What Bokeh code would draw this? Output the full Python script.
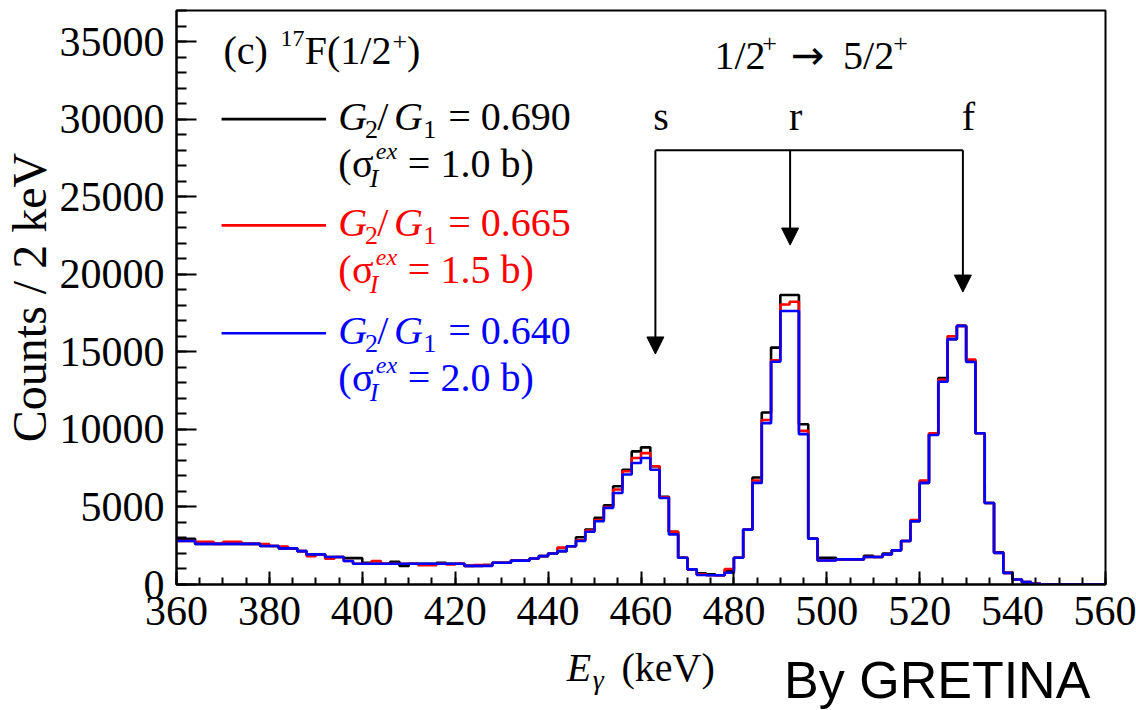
import math
from bokeh.plotting import figure
from bokeh.layouts import row, column
from bokeh.models import Range1d, SingleIntervalTicker, Label, Arrow, NormalHead, BasicTickFormatter
from bokeh.core.properties import value
from bokeh.embed import file_html
from bokeh.resources import INLINE

# ---- data: 2 keV bins from 360 to 560 keV ----
bin_edges = list(range(360, 562, 2))

counts_g690 = [2950, 2950, 2620, 2620, 2620, 2620, 2620, 2620, 2620, 2480,
               2480, 2330, 2330, 2150, 1940, 1940, 1770, 1770, 1700, 1700,
               1400, 1340, 1340, 1470, 1200, 1340, 1340, 1340, 1400, 1340,
               1340, 1200, 1200, 1250, 1400, 1400, 1540, 1540, 1680, 1830,
               2000, 2150, 2470, 3050, 3550, 4300, 5100, 6330, 7400, 8580,
               8840, 7620, 5650, 3400, 1720, 975, 720, 650, 600, 870,
               1720, 3540, 6900, 11090, 15270, 18660, 18660, 10330, 2960, 1720,
               1720, 1620, 1620, 1620, 1850, 1770, 2000, 2200, 2800, 4080,
               6550, 9700, 13300, 15820, 16670, 14400, 9750, 5250, 2080, 750,
               320, 150, 50, 0, 0, 0, 0, 0, 0, 0]

counts_g665 = [2800, 2800, 2750, 2750, 2620, 2750, 2750, 2620, 2620, 2600,
               2480, 2450, 2330, 2150, 1830, 1940, 1660, 1770, 1510, 1340,
               1340, 1510, 1340, 1340, 1340, 1340, 1250, 1250, 1340, 1300,
               1340, 1200, 1250, 1250, 1400, 1400, 1540, 1540, 1680, 1830,
               2000, 2380, 2470, 2850, 3480, 4150, 5000, 6120, 7300, 8150,
               8470, 7620, 5620, 3400, 1720, 975, 650, 600, 600, 1000,
               1720, 3540, 6700, 10600, 14450, 18050, 18230, 9900, 2960, 1550,
               1550, 1620, 1620, 1620, 1770, 1770, 1940, 2200, 2800, 4150,
               6700, 9750, 13200, 16000, 16670, 14500, 9750, 5250, 2040, 750,
               320, 150, 50, 0, 0, 0, 0, 0, 0, 0]

counts_g640 = [2800, 2800, 2620, 2620, 2620, 2620, 2620, 2620, 2620, 2480,
               2480, 2330, 2330, 2150, 1940, 1940, 1770, 1770, 1510, 1340,
               1340, 1340, 1340, 1340, 1340, 1340, 1340, 1340, 1340, 1340,
               1340, 1200, 1200, 1200, 1400, 1400, 1540, 1540, 1680, 1830,
               2000, 2150, 2470, 2800, 3400, 4080, 4940, 5900, 7090, 7830,
               8150, 7400, 5580, 3230, 1720, 975, 610, 600, 600, 760,
               1720, 3540, 6550, 10400, 14360, 17630, 17630, 9690, 2960, 1550,
               1550, 1620, 1620, 1620, 1770, 1770, 1940, 2200, 2800, 4080,
               6550, 9640, 13070, 15820, 16670, 14340, 9750, 5250, 2040, 750,
               320, 150, 50, 0, 0, 0, 0, 0, 0, 0]

series_colors = ["#000000", "#ff0000", "#0000ff"]
ratio_texts = ["= 0.690", "= 0.665", "= 0.640"]
sigma_texts = ["= 1.0 b)", "= 1.5 b)", "= 2.0 b)"]
legend_levels = [30000, 23150, 16200]

# peak markers (keV) and arrow tips (counts)
peak_names = ["s", "r", "f"]
peak_energies = [463.1, 492.1, 529.3]
arrow_tips = [14860, 21880, 18850]
bracket_level = 27990

SERIF = "Liberation Serif"
Y_MAX = 37000
FRAME_H = 574
CPP = Y_MAX / FRAME_H  # counts per screen pixel

LEFT_STRIP = 56
MAIN_W = 1136 - LEFT_STRIP
MAIN_H = 644

p = figure(width=MAIN_W, height=MAIN_H, output_backend="svg", toolbar_location=None,
           x_range=Range1d(360, 560), y_range=Range1d(0, Y_MAX),
           min_border_left=174 - LEFT_STRIP, min_border_right=31, min_border_top=10,
           min_border_bottom=MAIN_H - 10 - FRAME_H)
p.background_fill_color = "white"
p.border_fill_color = "white"
p.xgrid.visible = False
p.ygrid.visible = False
p.outline_line_color = "black"
p.outline_line_width = 2

for counts, col in zip([counts_g690, counts_g665, counts_g640], series_colors):
    p.step(x=bin_edges, y=counts + [counts[-1]], mode="after", line_color=col, line_width=2.6)

# axes
p.xaxis.ticker = SingleIntervalTicker(interval=20, num_minor_ticks=4)
p.yaxis.ticker = SingleIntervalTicker(interval=5000, num_minor_ticks=5)
p.yaxis.formatter = BasicTickFormatter(use_scientific=False)
for ax in (p.xaxis, p.yaxis):
    ax.axis_line_color = "black"
    ax.axis_line_width = 2
    ax.major_tick_line_color = "black"
    ax.minor_tick_line_color = "black"
    ax.major_tick_line_width = 2
    ax.minor_tick_line_width = 2
    ax.major_tick_out = 0
    ax.minor_tick_out = 0
    ax.major_label_text_font = SERIF
    ax.major_label_text_font_size = "42px"
    ax.major_label_text_color = "black"
p.xaxis.major_tick_in = 13
p.xaxis.minor_tick_in = 7
p.yaxis.major_tick_in = 20
p.yaxis.minor_tick_in = 10
p.xaxis.major_label_standoff = 12
p.yaxis.major_label_standoff = 12


def lab(x, y_base, text, size=40, style="normal", color="black", font=SERIF, align="left"):
    # y_base: baseline in data units; Bokeh anchors at the middle of the text box
    y_mid = y_base + 0.3375 * size * CPP
    p.add_layout(Label(x=x, y=y_mid, text=text, text_font=font, text_font_size=f"{size}px",
                       text_font_style=style, text_color=color, text_align=align,
                       text_baseline="middle"))


# panel title (c) 17F(1/2+)
lab(370.1, 33580, "(c)")
lab(382.4, 34700, "17", size=24)
lab(387.6, 33580, "F(1/2")
lab(406.5, 34420, "+", size=26)
lab(409.6, 33580, ")")

# transition label 1/2+ -> 5/2+
lab(475.8, 33260, "1/2")
lab(486.1, 34290, "+", size=26)
lab(492.3, 33260, "\u2192", font="DejaVu Sans")
lab(503.5, 33260, "5/2")
lab(514.3, 34290, "+", size=26)

# legend
for yline, col, rt, st in zip(legend_levels, series_colors, ratio_texts, sigma_texts):
    p.line([369.7, 392.2], [yline, yline], line_color=col, line_width=2.6)
    b1 = yline - 11 * CPP
    b2 = yline - 58 * CPP
    lab(394.8, b1, "G", style="italic", color=col)
    lab(400.6, b1 - 8 * CPP, "2", size=26, color=col)
    lab(403.2, b1, "/", color=col)
    lab(406.8, b1, "G", style="italic", color=col)
    lab(413.1, b1 - 8 * CPP, "1", size=26, color=col)
    lab(418.5, b1, rt, color=col)
    lab(394.8, b2, "(", color=col)
    lab(397.8, b2, "\u03c3", color=col)
    lab(402.9, b2 + 18 * CPP, "ex", size=24, style="italic", color=col)
    lab(401.6, b2 - 10 * CPP, "I", size=26, style="italic", color=col)
    lab(409.8, b2, st, color=col)

# peak labels and arrows
for name, e, tip in zip(peak_names, peak_energies, arrow_tips):
    lab(e + 1.2, 29265, name, align="center")
    p.add_layout(Arrow(end=NormalHead(size=17, fill_color="black", line_color="black"),
                       x_start=e, y_start=bracket_level, x_end=e, y_end=tip,
                       line_color="black", line_width=2))
p.segment(x0=[peak_energies[0]], y0=[bracket_level], x1=[peak_energies[-1]], y1=[bracket_level],
          line_color="black", line_width=2)

# ---- strip below the axis: x title and watermark (y in pixels, downward) ----
BOTTOM_H = 710 - MAIN_H
pb = figure(width=MAIN_W, height=BOTTOM_H, output_backend="svg", toolbar_location=None,
            x_range=p.x_range, y_range=Range1d(BOTTOM_H, 0),
            x_axis_location=None, y_axis_location=None,
            min_border_left=174 - LEFT_STRIP, min_border_right=31, min_border_top=0, min_border_bottom=0)
pb.outline_line_color = None
pb.grid.visible = False
pb.background_fill_color = "white"
pb.border_fill_color = "white"


def blab(x, base_px, text, size=40, style="normal", font=SERIF, k=0.3375):
    pb.text(x=[x], y=[base_px - k * size], text=[text], text_font=value(font),
            text_font_size=f"{size}px", text_font_style=style, text_color="black",
            text_align="left", text_baseline="middle")


blab(444.0, 36, "E", style="italic")
blab(449.6, 44, "\u03b3", size=28, style="italic")
blab(455.8, 36, "(keV)")
blab(490.8, 54, "By GRETINA", size=52, font="Liberation Sans", k=0.3465)

# ---- strip left of the axis: y title ----
pl = figure(width=LEFT_STRIP, height=710, output_backend="svg", toolbar_location=None,
            x_range=Range1d(0, LEFT_STRIP), y_range=Range1d(710, 0),
            x_axis_location=None, y_axis_location=None,
            min_border_left=0, min_border_right=0, min_border_top=0, min_border_bottom=0)
pl.outline_line_color = None
pl.grid.visible = False
pl.background_fill_color = "white"
pl.border_fill_color = "white"
pl.text(x=[29], y=[297], text=["Counts / 2 keV"], text_font=value(SERIF), text_font_size="48px",
        text_color="black", text_align="center", text_baseline="middle", angle=math.pi / 2)

layout = row(pl, column(p, pb, spacing=0), spacing=0)
open("out.html", "w").write(file_html(layout, INLINE))
